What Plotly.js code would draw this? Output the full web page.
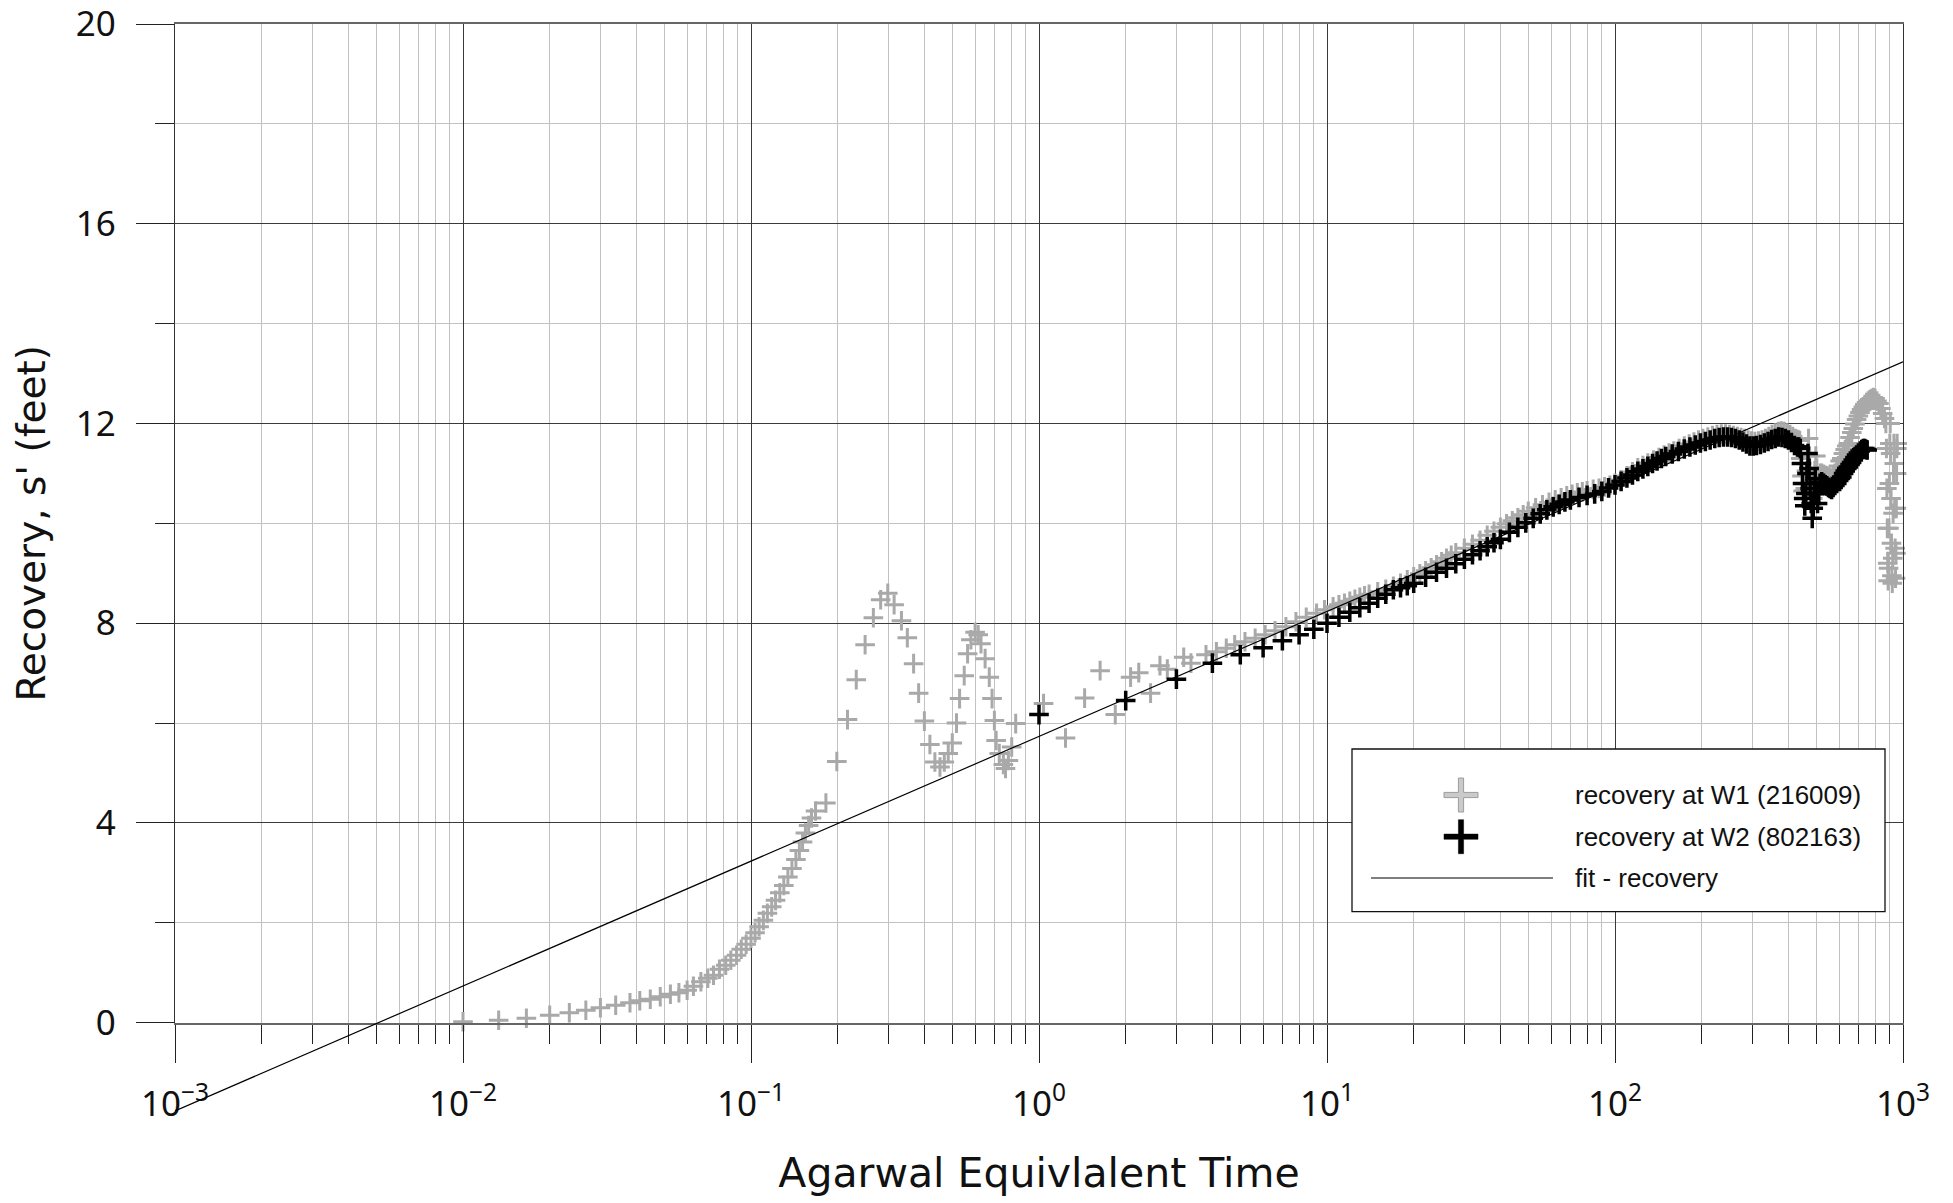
<!DOCTYPE html>
<html>
<head>
<meta charset="utf-8">
<script src="https://cdn.plot.ly/plotly-3.0.1.min.js"></script>
<style>
html,body{margin:0;padding:0;background:#ffffff;}
#chart{width:1953px;height:1203px;}
</style>
</head>
<body>
<div id="chart"></div>
<script>
// ---------------- data ----------------
const seriesNames = ['recovery at W1 (216009)', 'recovery at W2 (802163)', 'fit - recovery'];
const xTitle = 'Agarwal Equivlalent Time';
const yTitle = "Recovery, s' (feet)";

const xTickVals = [0.001, 0.01, 0.1, 1, 10, 100, 1000];
const xTickText = ['10<sup>\u22123</sup>', '10<sup>\u22122</sup>', '10<sup>\u22121</sup>', '10<sup>0</sup>', '10<sup>1</sup>', '10<sup>2</sup>', '10<sup>3</sup>'];
const yTickVals = [0, 4, 8, 12, 16, 20];
const yTickText = ['0', '4', '8', '12', '16', '20'];
const yMinorVals = [2, 6, 10, 14, 18];

// recovery at W1 (216009)
const w1Time = [
  0.0100,0.0133,0.0166,0.0200,0.0234,0.0267,0.0300,0.0339,0.0380,0.0411,
  0.0447,0.0484,0.0525,0.0562,0.0600,0.0631,0.0670,0.0708,0.0741,0.0777,
  0.0817,0.0851,0.0891,0.0925,0.0962,0.1000,0.1033,0.1067,0.1104,0.1140,
  0.1180,0.1217,0.1259,0.1300,0.1343,0.1387,0.1432,0.1472,0.1510,0.1545,
  0.1585,0.1622,0.1675,0.1820,0.1986,0.2163,0.2320,0.2490,0.2660,0.2820,
  0.2985,0.3140,0.3330,0.3490,0.3670,0.3820,0.4000,0.4180,0.4350,0.4530,
  0.4690,0.4840,0.5000,0.5170,0.5300,0.5500,0.5650,0.5800,0.6000,0.6150,
  0.6290,0.6500,0.6720,0.6870,0.7000,0.7100,0.7280,0.7520,0.7650,0.7830,
  0.8040,0.8300,1.037,1.236,1.440,1.630,1.840,2.080,2.220,2.440,
  2.630,2.790,3.180,3.370,3.800,4.130,4.470,4.780,5.190,5.630,
  6.100,6.600,7.200,7.800,8.470,9.200,9.800,10.5,11,11.5,
  12,12.5,13,13.5,14,15,16,17,18,19,
  20,21,22,23,24,25,26,27,28,30,
  32,34,36,38,40,42,44,46,48,50,
  53,56,59,62,65,68,71,74,77,80,
  84,88,92,96,100,105,110,115,120,125,
  130,136,142,148,154,160,167,174,181,188,
  195,202,210,218,226,234,242,250,258,266,
  274,282,290,298,306,315,324,333,342,351,
  360,369,378,387,396,405,414,423,432,438,
  442,446,450,454,458,462,466,470,474,478,
  482,486,490,494,498,502,507,512,516,522,
  530,537,544,551,558,565,573,581,589,597,
  605,613,621,630,638,646,655,664,672,681,
  690,700,709,718,728,737,747,757,767,778,
  789,800,812,825,838,850,862,872,876,879,
  882,885,888,891,894,897,900,903,906,909,
  912,915,918,921,924,927,930,933,936,939,
  942,945,948,950,952,954
];
const w1Recovery = [
  0.02,0.05,0.09,0.15,0.20,0.25,0.30,0.35,0.40,0.44,
  0.47,0.52,0.57,0.60,0.65,0.73,0.82,0.89,0.95,1.07,
  1.15,1.25,1.35,1.47,1.57,1.69,1.80,1.92,2.05,2.19,
  2.32,2.45,2.60,2.75,2.92,3.09,3.27,3.45,3.62,3.80,
  3.95,4.10,4.24,4.40,5.23,6.07,6.87,7.57,8.11,8.47,
  8.60,8.37,8.05,7.71,7.19,6.60,6.04,5.57,5.22,5.12,
  5.22,5.39,5.60,6.00,6.49,6.95,7.39,7.67,7.82,7.77,
  7.59,7.29,6.92,6.49,6.05,5.65,5.39,5.17,5.09,5.25,
  5.52,5.99,6.39,5.70,6.50,7.05,6.17,6.92,7.01,6.60,
  7.15,7.08,7.32,7.20,7.37,7.43,7.50,7.57,7.63,7.70,
  7.77,7.85,7.93,8.03,8.12,8.20,8.27,8.33,8.37,8.40,
  8.44,8.48,8.52,8.55,8.58,8.63,8.68,8.74,8.80,8.87,
  8.93,8.99,9.05,9.11,9.17,9.23,9.30,9.36,9.41,9.50,
  9.58,9.66,9.76,9.84,9.92,9.99,10.05,10.11,10.17,10.24,
  10.31,10.37,10.42,10.47,10.51,10.55,10.58,10.61,10.63,10.65,
  10.68,10.70,10.73,10.76,10.80,10.87,10.95,11.03,11.11,11.16,
  11.21,11.27,11.32,11.37,11.41,11.45,11.50,11.55,11.59,11.63,
  11.67,11.70,11.73,11.76,11.78,11.79,11.79,11.78,11.76,11.74,
  11.72,11.70,11.67,11.65,11.64,11.65,11.67,11.70,11.74,11.78,
  11.81,11.84,11.85,11.84,11.81,11.78,11.74,11.70,11.68,11.66,
  11.30,10.95,10.65,10.50,10.70,11.05,11.40,11.70,11.35,10.95,
  10.60,10.50,10.75,11.05,11.35,11.10,10.90,10.95,11.00,11.00,
  10.98,10.96,10.95,10.93,10.92,10.90,10.94,11.00,11.05,11.15,
  11.25,11.30,11.40,11.48,11.55,11.60,11.72,11.82,11.90,11.99,
  12.08,12.15,12.22,12.28,12.33,12.38,12.42,12.45,12.48,12.50,
  12.52,12.50,12.45,12.40,12.30,12.20,12.10,12.00,11.50,10.70,
  9.90,9.20,8.85,9.10,9.90,10.80,11.60,12.00,11.40,10.50,
  9.60,8.95,8.80,9.30,10.20,11.00,11.60,11.20,10.30,9.50,
  8.90,9.40,10.30,11.00,11.50,11.60
];

// recovery at W2 (802163)
const w2Time = [
  1,2,3,4,5,6,7,8,9,10,
  11,12,13,14,15,16,17,18,19,20,
  22,24,26,28,30,32,34,36,38,40,
  43,46,49,52,55,58,61,64,67,70,
  75,80,85,90,95,100,105,110,115,120,
  125,130,135,140,145,150,158,166,174,182,
  190,198,206,214,222,230,238,246,254,262,
  270,278,286,294,302,310,320,330,340,350,
  360,370,380,390,400,410,420,430,435,440,
  444,448,452,456,460,464,468,472,476,480,
  484,488,492,496,500,505,510,515,522,530,
  537,544,551,558,565,572,580,589,598,606,
  613,622,630,638,646,655,663,672,681,690,
  700,710,719,728,737,745,751
];
const w2Recovery = [
  6.17,6.45,6.88,7.20,7.37,7.51,7.65,7.77,7.88,8.00,
  8.12,8.22,8.31,8.40,8.50,8.58,8.67,8.71,8.75,8.80,
  8.92,9.02,9.10,9.19,9.28,9.37,9.45,9.53,9.61,9.68,
  9.82,9.92,10.01,10.10,10.19,10.27,10.33,10.38,10.43,10.47,
  10.52,10.56,10.59,10.64,10.71,10.77,10.84,10.91,10.97,11.04,
  11.09,11.14,11.20,11.25,11.30,11.34,11.39,11.44,11.49,11.53,
  11.57,11.61,11.64,11.67,11.70,11.72,11.73,11.73,11.72,11.70,
  11.67,11.63,11.59,11.55,11.55,11.56,11.58,11.61,11.64,11.68,
  11.70,11.73,11.72,11.70,11.67,11.62,11.56,11.53,11.53,11.50,
  11.20,10.80,10.50,10.35,10.60,11.00,11.40,11.10,10.70,10.40,
  10.10,10.30,10.60,10.90,10.60,10.40,10.60,10.80,10.83,10.80,
  10.77,10.75,10.72,10.70,10.68,10.72,10.76,10.80,10.86,10.90,
  10.93,11.00,11.05,11.10,11.13,11.18,11.22,11.27,11.32,11.37,
  11.41,11.45,11.48,11.50,11.50,11.48,11.47
];

// fit - recovery (straight line on the semi-log plot, end points)
const fitTime = [0.001, 1000];
const fitRecovery = [-1.765, 13.235];

// ---------------- layout geometry ----------------
const W = 1953, H = 1203;
const mL = 175, mR = 50, mT = 24, mB = 80;
const plotW = W - mL - mR, plotH = H - mT - mB;
const yZeroPx = 1022.7;                       // pixel row of s' = 0
const yDomLow = (H - mB - yZeroPx) / plotH;   // main y axis domain bottom
const pxPerUnit = (yZeroPx - mT) / 20;
const y2Min = 20 - plotH / pxPerUnit;         // extended axis for the fit line

function px2paperX(px) { return (px - mL) / plotW; }
function px2paperY(py) { return (H - mB - py) / plotH; }

// minor tick positions on the log axis (2..9 in each decade)
const xMinorVals = [];
for (let e = -3; e < 3; e++) {
  for (let d = 2; d <= 9; d++) xMinorVals.push(d * Math.pow(10, e));
}

const darkGrid = '#3a3a3a';
const lightGrid = '#c2c2c2';
const tickFont = {family: 'Noto Sans, Liberation Sans, sans-serif', size: 35, color: '#111111'};
const titleFontFamily = 'DejaVu Sans, sans-serif';

const traces = [
  {
    x: w1Time, y: w1Recovery, name: seriesNames[0], type: 'scatter', mode: 'markers',
    xaxis: 'x', yaxis: 'y', cliponaxis: false, showlegend: false,
    marker: {symbol: 'cross-thin', size: 14, color: '#a9a9a9', line: {color: '#a9a9a9', width: 3}}
  },
  {
    x: w2Time, y: w2Recovery, name: seriesNames[1], type: 'scatter', mode: 'markers',
    xaxis: 'x', yaxis: 'y', cliponaxis: false, showlegend: false,
    marker: {symbol: 'cross-thin', size: 14, color: '#000000', line: {color: '#000000', width: 3.5}}
  },
  {
    x: fitTime, y: fitRecovery, name: seriesNames[2], type: 'scatter', mode: 'lines',
    xaxis: 'x2', yaxis: 'y2', showlegend: false,
    line: {color: '#000000', width: 1.2}
  }
];

// ---------------- custom legend (box, symbols, text) ----------------
const legendBox = {x0: 1352, x1: 1885, y0: 749, y1: 911.7};
const legendRowsPx = [795, 836.7, 878];
const legendSymbolX = 1461;
const legendTextX = 1573;

function crossPath(a, t) {
  return 'M' + (-a) + ',' + (-t) + ' H' + (-t) + ' V' + (-a) + ' H' + t + ' V' + (-t) +
         ' H' + a + ' V' + t + ' H' + t + ' V' + a + ' H' + (-t) + ' V' + t + ' H' + (-a) + ' Z';
}

const shapes = [
  {type: 'rect', xref: 'paper', yref: 'paper', layer: 'above',
   x0: px2paperX(legendBox.x0), x1: px2paperX(legendBox.x1),
   y0: px2paperY(legendBox.y1), y1: px2paperY(legendBox.y0),
   fillcolor: '#ffffff', line: {color: '#111111', width: 1.3}},
  {type: 'path', xref: 'paper', yref: 'paper', layer: 'above',
   xsizemode: 'pixel', ysizemode: 'pixel',
   xanchor: px2paperX(legendSymbolX), yanchor: px2paperY(legendRowsPx[0]),
   path: crossPath(17, 2.6), fillcolor: '#cacaca', line: {color: '#9c9c9c', width: 1}},
  {type: 'path', xref: 'paper', yref: 'paper', layer: 'above',
   xsizemode: 'pixel', ysizemode: 'pixel',
   xanchor: px2paperX(legendSymbolX), yanchor: px2paperY(legendRowsPx[1]),
   path: crossPath(17, 2.6), fillcolor: '#000000', line: {color: '#000000', width: 0.5}},
  {type: 'line', xref: 'paper', yref: 'paper', layer: 'above',
   x0: px2paperX(1371), x1: px2paperX(1553),
   y0: px2paperY(legendRowsPx[2]), y1: px2paperY(legendRowsPx[2]),
   line: {color: '#000000', width: 1.2}}
];

const annotations = seriesNames.map((name, i) => ({
  text: name, xref: 'paper', yref: 'paper',
  x: px2paperX(legendTextX), y: px2paperY(legendRowsPx[i]),
  xanchor: 'left', yanchor: 'middle', showarrow: false,
  font: {family: 'Liberation Sans, Arial, sans-serif', size: 26, color: '#111111'}
}));

const layout = {
  width: W, height: H,
  margin: {l: mL, r: mR, t: mT, b: mB, pad: 0},
  paper_bgcolor: '#ffffff',
  plot_bgcolor: 'rgba(0,0,0,0)',
  showlegend: false,
  xaxis: {
    type: 'log', range: [-3, 3], domain: [0, 1], anchor: 'y',
    tickmode: 'array', tickvals: xTickVals, ticktext: xTickText,
    ticks: 'outside', ticklen: 38, tickwidth: 1, tickcolor: '#222222',
    ticklabelstandoff: 11, ticklabeloverflow: 'allow',
    tickfont: tickFont,
    showgrid: true, gridcolor: darkGrid, gridwidth: 1,
    showline: true, linecolor: '#666666', linewidth: 2, mirror: true,
    zeroline: false, automargin: false,
    minor: {tickmode: 'array', tickvals: xMinorVals, ticks: 'outside', ticklen: 19,
            tickwidth: 1, tickcolor: '#222222', showgrid: true, gridcolor: lightGrid, gridwidth: 1},
    title: {text: xTitle, font: {family: titleFontFamily, size: 41, color: '#111111'}, standoff: 34}
  },
  yaxis: {
    range: [0, 20], domain: [yDomLow, 1], anchor: 'x',
    tickmode: 'array', tickvals: yTickVals, ticktext: yTickText,
    ticks: 'outside', ticklen: 38, tickwidth: 1, tickcolor: '#222222',
    ticklabelstandoff: 13, ticklabeloverflow: 'allow',
    tickfont: tickFont,
    showgrid: true, gridcolor: darkGrid, gridwidth: 1,
    showline: true, linecolor: '#333333', linewidth: 1.2, mirror: true,
    zeroline: false, automargin: false,
    minor: {tickmode: 'array', tickvals: yMinorVals, ticks: 'outside', ticklen: 19,
            tickwidth: 1, tickcolor: '#222222', showgrid: true, gridcolor: lightGrid, gridwidth: 1},
    title: {text: yTitle, font: {family: titleFontFamily, size: 39, color: '#111111'}, standoff: 18}
  },
  xaxis2: {type: 'log', range: [-3, 3], domain: [0, 1], anchor: 'y2', visible: false, showgrid: false, zeroline: false},
  yaxis2: {range: [y2Min, 20], domain: [0, 1], anchor: 'x2', visible: false, showgrid: false, zeroline: false},
  shapes: shapes,
  annotations: annotations
};

Plotly.newPlot('chart', traces, layout, {displayModeBar: false, staticPlot: true});
</script>
</body>
</html>
